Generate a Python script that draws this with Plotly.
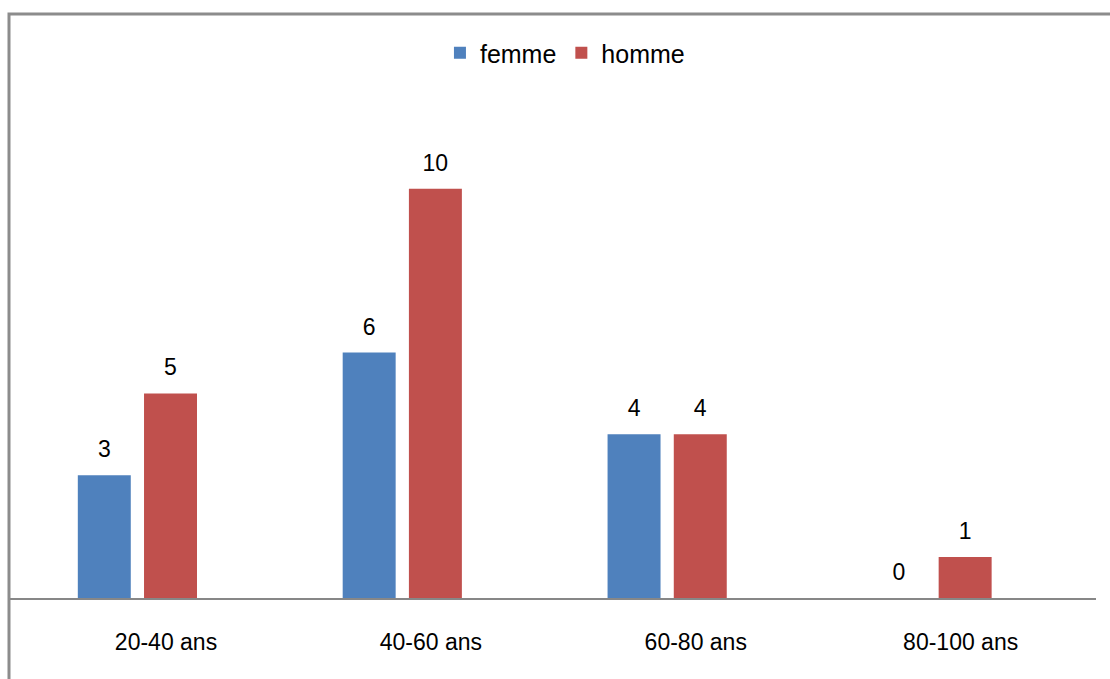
import plotly.graph_objects as go

categories = ["20-40 ans", "40-60 ans", "60-80 ans", "80-100 ans"]
femme = [3, 6, 4, 0]
homme = [5, 10, 4, 1]

FONT = "Liberation Sans, Arial, sans-serif"
pos = list(range(len(categories)))
W = 0.2
OFF_F = -0.333
OFF_H = -0.083

fig = go.Figure()
fig.add_trace(go.Bar(
    name="femme", x=pos, y=femme,
    marker=dict(color="#4F81BD", line=dict(width=0)),
    width=W, offset=OFF_F,
))
fig.add_trace(go.Bar(
    name="homme", x=pos, y=homme,
    marker=dict(color="#C0504D", line=dict(width=0)),
    width=W, offset=OFF_H,
))
# value labels
for vals, off in ((femme, OFF_F), (homme, OFF_H)):
    fig.add_trace(go.Scatter(
        x=[p + off + W / 2 for p in pos], y=vals,
        mode="markers+text", text=[str(v) for v in vals], textposition="top center",
        marker=dict(size=18, opacity=0), textfont=dict(size=23, color="#000000", family=FONT),
        showlegend=False, hoverinfo="skip", cliponaxis=False,
    ))

fig.update_layout(
    width=1110, height=679,
    margin=dict(l=10, r=14, t=60, b=81),
    paper_bgcolor="white", plot_bgcolor="white",
    font=dict(family=FONT, size=23, color="#000000"),
    showlegend=True, barmode="overlay",
    legend=dict(orientation="h", x=0.511, xanchor="center", y=1.013, yanchor="middle",
                font=dict(size=25, family=FONT), itemwidth=30, traceorder="normal"),
    xaxis=dict(range=[-0.589, 3.511], showline=True, linecolor="#878787", linewidth=2,
               showgrid=False, ticks="", ticklabelstandoff=22,
               tickmode="array", tickvals=pos, ticktext=categories,
               tickfont=dict(size=23, family=FONT), zeroline=False),
    yaxis=dict(range=[0, 13.15], showgrid=False, showticklabels=False, zeroline=False,
               showline=False, ticks=""),
    shapes=[dict(type="rect", xref="paper", yref="paper",
                 x0=-1.0/1086, x1=1.05, y0=-0.2, y1=(598 - 14) / 538.0,
                 line=dict(color="#8c8c8c", width=3), fillcolor="rgba(0,0,0,0)")],
)

fig.write_html("out.html", config={"displayModeBar": False},
               post_script="document.body.style.margin='0';document.body.style.padding='0';")
